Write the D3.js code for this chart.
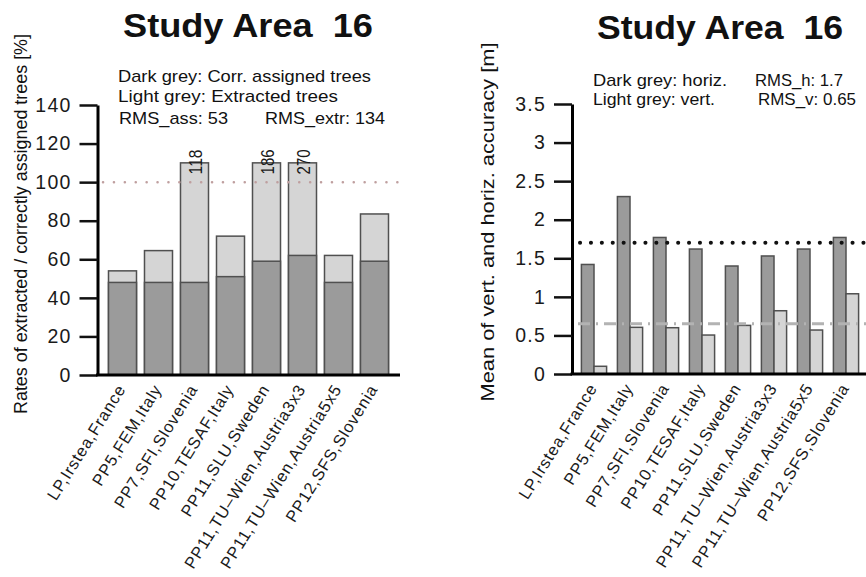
<!DOCTYPE html>
<html><head><meta charset="utf-8">
<script src="https://cdn.jsdelivr.net/npm/d3@7"></script>
<style>
body{margin:0;background:#fff;}
svg{font-family:"Liberation Sans",Arial,sans-serif;}
</style></head>
<body><svg id="c" width="866" height="577"></svg>
<script>
const categories = ["LP,Irstea,France","PP5,FEM,Italy","PP7,SFI,Slovenia","PP10,TESAF,Italy","PP11,SLU,Sweden","PP11,TU–Wien,Austria3x3","PP11,TU–Wien,Austria5x5","PP12,SFS,Slovenia"];
const assigned = [48, 48, 48, 51, 59, 62, 48, 59];
const extracted = [54, 64.5, 118, 72, 186, 270, 62, 83.5];
const leftTicks = [0, 20, 40, 60, 80, 100, 120, 140];
const leftCap = 110;
const leftRef = 100;
const horiz = [1.42, 2.30, 1.77, 1.62, 1.40, 1.53, 1.62, 1.77];
const vert = [0.10, 0.605, 0.60, 0.505, 0.63, 0.82, 0.57, 1.04];
const rightTicks = [0, 0.5, 1, 1.5, 2, 2.5, 3, 3.5];
const rmsH = 1.7, rmsV = 0.65;
const title = "Study Area\u00a0\u00a016";

const svg = d3.select("#c");
const DARK = "#9b9b9b", LIGHT = "#d5d5d5", EDGE = "#505050";

function txt(g, x, y, s, size, len, opts = {}) {
  const t = g.append("text").attr("x", x).attr("y", y).text(s)
    .attr("font-size", size).attr("fill", opts.fill || "#111");
  if (opts.bold) t.attr("font-weight", "bold");
  if (opts.anchor) t.attr("text-anchor", opts.anchor);
  if (len) t.attr("textLength", len).attr("lengthAdjust", "spacingAndGlyphs");
  if (opts.rotate != null) t.attr("transform", `rotate(${opts.rotate},${x},${y})`);
  return t;
}

function yAxis(g, y, x0, ticks, fmt) {
  const ax = d3.axisLeft(y).tickValues(ticks).tickSize(18).tickPadding(8).tickSizeOuter(0).tickFormat(fmt);
  const a = g.append("g").attr("transform", `translate(${x0},0)`).call(ax);
  a.select(".domain").attr("stroke", "#000").attr("stroke-width", 3);
  a.selectAll(".tick line").attr("stroke", "#111").attr("stroke-width", 2.5);
  a.selectAll(".tick text").attr("font-size", 19.5).attr("fill", "#1a1a1a")
    .attr("font-family", "Liberation Sans, Arial, sans-serif")
    .attr("letter-spacing", 1.2);
}

function xLabels(g, x, y0, offset) {
  const ax = d3.axisBottom(x).tickSize(0).tickPadding(0);
  const a = g.append("g").attr("transform", `translate(${offset},${y0 + 11})`).call(ax);
  a.select(".domain").remove();
  a.selectAll(".tick text").attr("font-size", 16.5).attr("fill", "#1a1a1a")
    .attr("font-family", "Liberation Sans, Arial, sans-serif")
    .attr("letter-spacing", 0.8)
    .attr("text-anchor", "end").attr("dy", "0.35em")
    .attr("transform", "rotate(-58)");
}

// ---------- LEFT CHART ----------
{
  const g = svg.append("g");
  const x0 = 97.5, x1 = 400, yb = 375, yt = 105;
  const x = d3.scaleBand().domain(categories).range([104.5, 392.5]).paddingInner(0.222).paddingOuter(0.111);
  const y = d3.scaleLinear().domain([0, 140]).range([yb, yt]);

  txt(g, 248, 37, title, 34, 250, {bold: true, anchor: "middle"});
  txt(g, 118, 82, "Dark grey: Corr. assigned trees", 17, 253);
  txt(g, 118, 102, "Light grey: Extracted trees", 17, 220);
  txt(g, 119, 124, "RMS_ass: 53", 17, 109);
  txt(g, 265, 124, "RMS_extr: 134", 17, 120);
  txt(g, 27, 224, "Rates of extracted / correctly assigned trees [%]", 18, 380, {anchor: "middle", rotate: -90});

  g.selectAll("rect.ext").data(categories).join("rect").attr("class", "ext")
    .attr("x", d => x(d)).attr("width", x.bandwidth())
    .attr("y", (d, i) => y(Math.min(extracted[i], leftCap)))
    .attr("height", (d, i) => yb - y(Math.min(extracted[i], leftCap)))
    .attr("fill", LIGHT).attr("stroke", EDGE).attr("stroke-width", 1.5);
  g.selectAll("rect.ass").data(categories).join("rect").attr("class", "ass")
    .attr("x", d => x(d)).attr("width", x.bandwidth())
    .attr("y", (d, i) => y(assigned[i]))
    .attr("height", (d, i) => yb - y(assigned[i]))
    .attr("fill", DARK).attr("stroke", EDGE).attr("stroke-width", 1.5);

  g.append("line").attr("x1", 103).attr("x2", 398).attr("y1", y(leftRef)).attr("y2", y(leftRef))
    .attr("stroke", "#bf9f9f").attr("stroke-width", 2.5).attr("stroke-dasharray", "0.1,10.8").attr("stroke-linecap", "round");

  categories.forEach((c, i) => {
    if (extracted[i] > leftCap) {
      const cx = x(c) + x.bandwidth() / 2 + 8, cy = y(104);
      txt(g, cx, cy, String(extracted[i]), 17.5, 25, {rotate: -90, fill: "#1a1a1a"});
    }
  });

  yAxis(g, y, x0, leftTicks, d3.format("d"));
  g.append("line").attr("x1", x0 - 1.5).attr("x2", x1).attr("y1", yb).attr("y2", yb).attr("stroke", "#000").attr("stroke-width", 3);
  xLabels(g, x, yb, -1);
}

// ---------- RIGHT CHART ----------
{
  const g = svg.append("g");
  const x0 = 572, x1 = 866, yb = 374, yt = 104;
  const x = d3.scaleBand().domain(categories).range([576, 864]).paddingInner(0.3).paddingOuter(0.15);
  const sub = d3.scaleBand().domain(["h", "v"]).range([0, x.bandwidth()]);
  const y = d3.scaleLinear().domain([0, 3.5]).range([yb, yt]);

  txt(g, 720, 39, title, 34, 246, {bold: true, anchor: "middle"});
  txt(g, 593, 86, "Dark grey: horiz.", 17, 134);
  txt(g, 755, 86, "RMS_h: 1.7", 17, 88);
  txt(g, 593, 105, "Light grey: vert.", 17, 122);
  txt(g, 758, 105, "RMS_v: 0.65", 17, 98);
  txt(g, 494, 222, "Mean of vert. and horiz. accuracy [m]", 18, 359, {anchor: "middle", rotate: -90});

  g.selectAll("rect.h").data(categories).join("rect").attr("class", "h")
    .attr("x", d => x(d) + sub("h")).attr("width", sub.bandwidth())
    .attr("y", (d, i) => y(horiz[i])).attr("height", (d, i) => yb - y(horiz[i]))
    .attr("fill", DARK).attr("stroke", EDGE).attr("stroke-width", 1.5);
  g.selectAll("rect.v").data(categories).join("rect").attr("class", "v")
    .attr("x", d => x(d) + sub("v")).attr("width", sub.bandwidth())
    .attr("y", (d, i) => y(vert[i])).attr("height", (d, i) => yb - y(vert[i]))
    .attr("fill", LIGHT).attr("stroke", EDGE).attr("stroke-width", 1.5);

  g.append("line").attr("x1", 580).attr("x2", 866).attr("y1", y(rmsH)).attr("y2", y(rmsH))
    .attr("stroke", "#111").attr("stroke-width", 4).attr("stroke-dasharray", "0.1,10.8").attr("stroke-linecap", "round");
  g.append("line").attr("x1", 578).attr("x2", 866).attr("y1", y(rmsV)).attr("y2", y(rmsV))
    .attr("stroke", "#b3b3b3").attr("stroke-width", 3).attr("stroke-dasharray", "12,6,2,6");

  yAxis(g, y, x0, rightTicks, d3.format("~g"));
  g.append("line").attr("x1", x0 - 1.5).attr("x2", x1).attr("y1", yb).attr("y2", yb).attr("stroke", "#000").attr("stroke-width", 3);
  xLabels(g, x, yb, -1);
}
</script></body></html>
